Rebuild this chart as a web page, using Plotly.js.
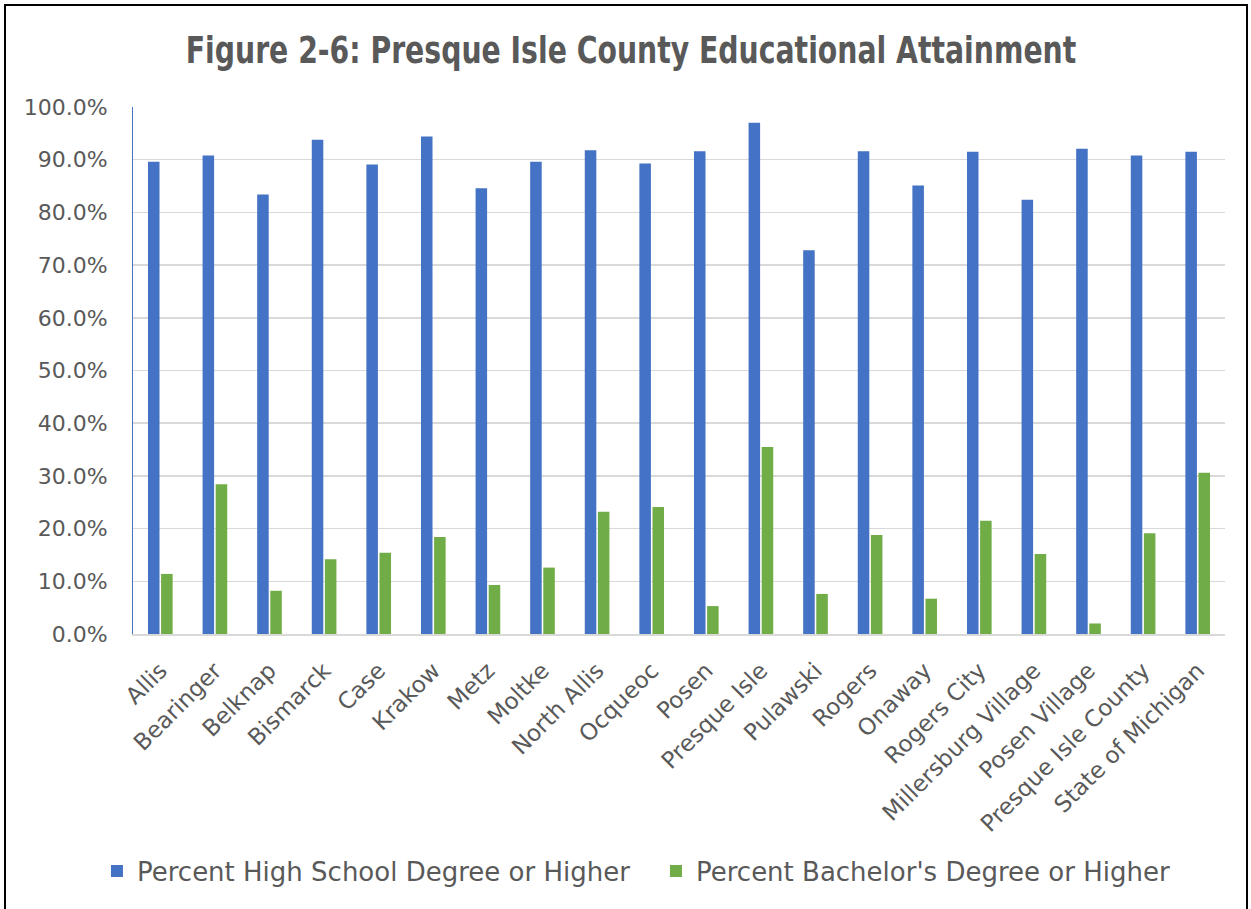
<!DOCTYPE html>
<html>
<head>
<meta charset="utf-8">
<script src="https://cdn.plot.ly/plotly-3.0.1.min.js"></script>
<style>
  html, body { margin: 0; padding: 0; background: #fff; overflow: hidden; }
  #wrap { position: relative; width: 1251px; height: 909px; }
  #chart { position: absolute; left: 0; top: 0; width: 1251px; height: 909px; }
  #frame { position: absolute; left: 4px; top: 4px; width: 1240px; height: 920px;
           border: 2px solid #000; pointer-events: none; }
</style>
</head>
<body>
<div id="wrap">
  <div id="chart"></div>
  <div id="frame"></div>
</div>
<script>
const categories = ["Allis", "Bearinger", "Belknap", "Bismarck", "Case", "Krakow", "Metz", "Moltke",
  "North Allis", "Ocqueoc", "Posen", "Presque Isle", "Pulawski", "Rogers", "Onaway", "Rogers City",
  "Millersburg Village", "Posen Village", "Presque Isle County", "State of Michigan"];
const highSchool = [0.896, 0.908, 0.834, 0.938, 0.891, 0.944, 0.846, 0.896, 0.918, 0.893,
  0.916, 0.970, 0.728, 0.916, 0.851, 0.915, 0.824, 0.921, 0.908, 0.915];
const bachelors = [0.114, 0.284, 0.082, 0.142, 0.154, 0.184, 0.093, 0.126, 0.232, 0.241,
  0.053, 0.355, 0.076, 0.188, 0.067, 0.215, 0.152, 0.020, 0.191, 0.306];
const seriesNames = ["Percent High School Degree or Higher", "Percent Bachelor's Degree or Higher"];
const tickVals = [0, 0.1, 0.2, 0.3, 0.4, 0.5, 0.6, 0.7, 0.8, 0.9, 1.0];

const traces = [
  { type: "bar", name: seriesNames[0], x: categories, y: highSchool,
    marker: { color: "#4472C4", line: { width: 0 } } },
  { type: "bar", name: seriesNames[1], x: categories, y: bachelors,
    marker: { color: "#70AD47", line: { width: 0 } } }
];

const layout = {
  width: 1251, height: 909,
  paper_bgcolor: "#ffffff", plot_bgcolor: "#ffffff",
  margin: { l: 133, r: 26, t: 107, b: 275 },
  title: { text: "Figure 2-6: Presque Isle County Educational Attainment",
    font: { family: "'DejaVu Sans Condensed', 'Liberation Sans Narrow', Roboto, sans-serif",
      size: 37, color: "#595959", weight: 700 },
    x: 631 / 1251, xanchor: "center", y: 0.945, yanchor: "middle" },
  barmode: "group", bargap: 0.52, bargroupgap: 0.12,
  xaxis: { type: "category", tickangle: -45,
    tickfont: { family: "DejaVu Sans", size: 23, color: "#595959" },
    showgrid: false, showline: true, linecolor: "#d9d9d9", linewidth: 2, ticks: "",
    ticklabelstandoff: 12, automargin: false },
  yaxis: { range: [0, 1.0], tickvals: tickVals, tickformat: ".1%",
    tickfont: { family: "DejaVu Sans", size: 22, color: "#595959" },
    showgrid: true, gridcolor: "#d9d9d9", gridwidth: 1.5, zeroline: false,
    showline: true, linecolor: "#4472C4", linewidth: 1, ticks: "", ticklen: 0,
    ticklabelstandoff: 20, automargin: false },
  showlegend: true,
  legend: { orientation: "h", x: -0.033, xanchor: "left", y: -0.45, yanchor: "middle",
    font: { family: "DejaVu Sans", size: 26, color: "#595959" }, itemwidth: 30,
    entrywidth: 514, entrywidthmode: "pixels", traceorder: "normal" }
};

Plotly.newPlot("chart", traces, layout, { displayModeBar: false, staticPlot: true }).then(function () {
  // The reference title uses a tall condensed face: narrow the real title text horizontally.
  const t = document.querySelector("#chart .gtitle");
  if (t) {
    const bb = t.getBBox();
    const targetWidth = 891;
    const s = targetWidth / bb.width;
    const cx = bb.x + bb.width / 2;
    const prev = t.getAttribute("transform") || "";
    t.setAttribute("transform", prev + " translate(" + cx + ",0) scale(" + s + ",1) translate(" + (-cx) + ",0)");
  }
});
</script>
</body>
</html>
